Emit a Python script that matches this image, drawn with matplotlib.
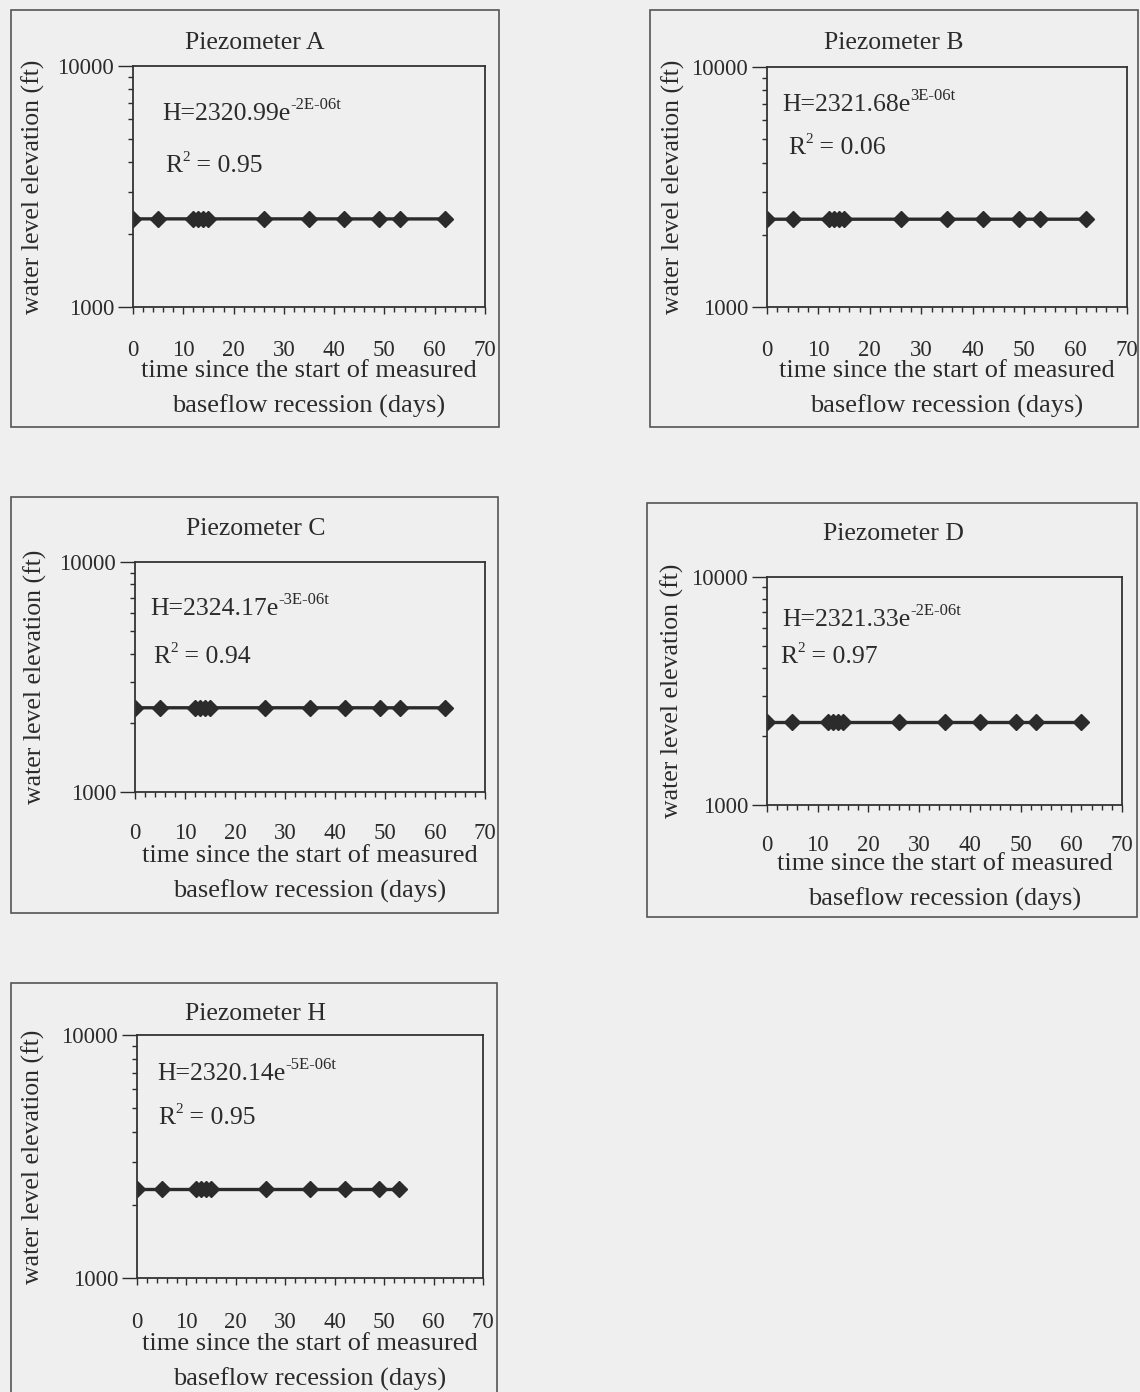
"""
Piezometer baseflow recession plots (A, B, C, D, H)
water level elevation vs time, log y axis, with exponential fit text
"""

import matplotlib
matplotlib.use("Agg")
import matplotlib.pyplot as plt
from matplotlib.patches import Rectangle
from matplotlib.ticker import MultipleLocator, FixedLocator, NullFormatter

plt.rcParams["font.family"] = ["Liberation Serif", "DejaVu Serif"]

# ---- data ----
names = ["A", "B", "C", "D", "H"]
days_abcd = [0, 5, 12, 13, 14, 15, 26, 35, 42, 49, 53, 62]
days_h = [0, 5, 12, 13, 14, 15, 26, 35, 42, 49, 53]

elev_a = [2321, 2321, 2321, 2321, 2321, 2321, 2321, 2321, 2320, 2320, 2320, 2320]
elev_b = [2321, 2322, 2322, 2322, 2322, 2322, 2322, 2322, 2322, 2322, 2322, 2322]
elev_c = [2324, 2324, 2324, 2324, 2324, 2324, 2324, 2324, 2324, 2323, 2323, 2323]
elev_d = [2321, 2321, 2321, 2321, 2321, 2321, 2321, 2321, 2321, 2321, 2321, 2321]
elev_h = [2320, 2320, 2320, 2320, 2320, 2320, 2320, 2320, 2320, 2320, 2320]

fit_coef = ["2320.99", "2321.68", "2324.17", "2321.33", "2320.14"]
fit_expo = ["-2E-06t", "3E-06t", "-3E-06t", "-2E-06t", "-5E-06t"]
fit_r2 = ["0.95", "0.06", "0.94", "0.97", "0.95"]

days = [days_abcd, days_abcd, days_abcd, days_abcd, days_h]
elevs = [elev_a, elev_b, elev_c, elev_d, elev_h]

# ---- layout in pixels (figure is 1140 x 1392) ----
W, H = 1140, 1392
boxes = [(11, 10, 499, 427), (650, 10, 1138, 427), (11, 497, 498, 913),
         (647, 503, 1137, 917), (11, 983, 497, 1400)]
axes_px = [(133, 66, 485, 307), (767, 67, 1127, 307), (135, 562, 485, 792),
           (767, 577, 1122, 805), (137, 1035, 483, 1278)]
title_px = [(255, 43), (894, 43), (256, 529), (893, 534), (255, 1014)]
eq_px = [(162, 114), (782, 105), (150, 609), (782, 620), (157, 1074)]
r2_px = [(165, 166), (788, 148), (153, 657), (780, 657), (158, 1118)]
ylab_x = [33, 673, 35, 672, 33]
xlab_y = [389, 389, 874, 882, 1362]
xtick_y = [346, 346, 829, 841, 1318]

bg = "#efefef"
ink = "#2b2b2b"

fig = plt.figure(figsize=(W / 100, H / 100), dpi=100, facecolor=bg)


def fx(x):
    return x / W


def fy(y):
    return 1 - y / H


for i, name in enumerate(names):
    bl, bt, br, bb = boxes[i]
    fig.add_artist(Rectangle((fx(bl), fy(bb)), fx(br - bl), (bb - bt) / H,
                             transform=fig.transFigure, fill=False,
                             ec="#555555", lw=1.2))

    l, t, r, b = axes_px[i]
    ax = fig.add_axes([fx(l), fy(b), fx(r - l), (b - t) / H])
    ax.set_facecolor(bg)
    ax.plot(days[i], elevs[i], color=ink, lw=2.4, marker="D", ms=8,
            mec=ink, mfc=ink)

    ax.set_yscale("log")
    ax.set_ylim(1000, 10000)
    ax.set_xlim(0, 70)
    ax.set_yticks([1000, 10000])
    ax.set_yticklabels(["1000", "10000"])
    ax.yaxis.set_minor_locator(FixedLocator(range(2000, 10000, 1000)))
    ax.yaxis.set_minor_formatter(NullFormatter())
    ax.xaxis.set_major_locator(MultipleLocator(10))
    ax.xaxis.set_minor_locator(MultipleLocator(2))

    for s in ax.spines.values():
        s.set_linewidth(1.3)
        s.set_color("#333333")

    # x tick label distance below the axis
    xpad = (xtick_y[i] - b - 8 - 5) * 0.72
    ax.tick_params(axis="x", which="major", direction="out", length=5,
                   width=1, pad=xpad, labelsize=16.5, colors=ink)
    ax.tick_params(axis="x", which="minor", direction="out", length=3.5,
                   width=1, colors=ink)
    ax.tick_params(axis="y", which="major", direction="out", length=11,
                   width=1, pad=2.5, labelsize=16.5, colors=ink)
    ax.tick_params(axis="y", which="minor", direction="out", length=3.5,
                   width=1, colors=ink)

    ax.set_xlabel("time since the start of measured\nbaseflow recession (days)",
                  fontsize=19, color=ink, va="center", linespacing=1.65)
    ax.xaxis.set_label_coords(0.5, (b - xlab_y[i]) / (b - t))
    ax.set_ylabel("water level elevation (ft)", fontsize=18.5, color=ink,
                  va="center")
    ax.yaxis.set_label_coords((ylab_x[i] - l) / (r - l), 0.5)

    fig.text(fx(title_px[i][0]), fy(title_px[i][1]), "Piezometer " + name,
             ha="center", va="center", fontsize=18.5, color=ink)

    # fitted equation with superscript exponent
    eq = fig.text(fx(eq_px[i][0]), fy(eq_px[i][1]), "H=" + fit_coef[i] + "e",
                  ha="left", va="center", fontsize=18.5, color=ink)
    ax.annotate(fit_expo[i], xy=(1.0, 0.55), xycoords=eq, ha="left",
                va="bottom", fontsize=12, color=ink)

    rr = fig.text(fx(r2_px[i][0]), fy(r2_px[i][1]), "R", ha="left",
                  va="center", fontsize=18.5, color=ink)
    sq = ax.annotate("2", xy=(1.0, 0.6), xycoords=rr, ha="left",
                     va="bottom", fontsize=11, color=ink)
    ax.annotate(" = " + fit_r2[i], xy=(1.0, 0.0), xycoords=(sq, rr),
                ha="left", va="bottom", fontsize=18.5, color=ink)

fig.savefig("out.png", dpi=100, facecolor=bg)
